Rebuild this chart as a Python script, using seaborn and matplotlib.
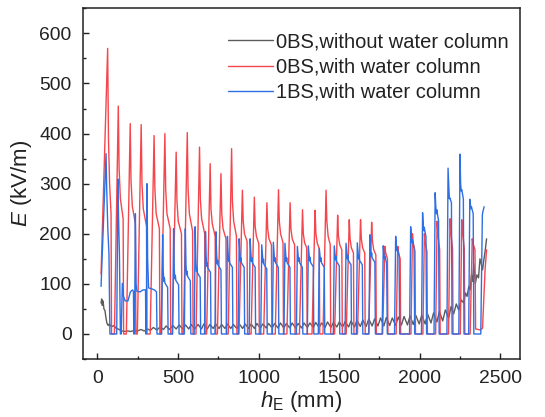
import matplotlib
matplotlib.use("Agg")
import matplotlib.pyplot as plt
from matplotlib.ticker import MultipleLocator
import seaborn as sns
import pandas as pd

# ---------------- data ----------------
# h_E (mm) and E (kV/m)
gray_x = [23, 27, 31, 35, 41, 47, 53, 59, 67, 74, 82, 93, 103, 114, 129, 145, 166, 187, 208, 228,
          249, 270, 291, 312, 328, 348, 369, 390, 411, 427, 448, 468, 489, 508, 529, 547, 567, 583,
          604, 625, 646, 661, 682, 698, 719, 734, 755, 771, 792, 807, 828, 844, 865, 881, 901, 917,
          938, 954, 975, 990, 1011, 1027, 1048, 1063, 1084, 1100, 1121, 1136, 1157, 1173, 1194, 1209,
          1230, 1246, 1267, 1282, 1303, 1319, 1340, 1355, 1376, 1392, 1413, 1428, 1449, 1465, 1486,
          1501, 1522, 1538, 1559, 1574, 1595, 1611, 1632, 1647, 1668, 1684, 1705, 1720, 1741, 1757,
          1778, 1793, 1814, 1830, 1851, 1867, 1887, 1903, 1924, 1940, 1960, 1976, 1997, 2013, 2034,
          2049, 2070, 2086, 2107, 2122, 2143, 2159, 2180, 2195, 2211, 2227, 2242, 2258, 2273, 2284,
          2294, 2305, 2313, 2321, 2328, 2336, 2345, 2355, 2365, 2374, 2382, 2390, 2399, 2406, 2415]
gray_y = [62, 70, 57, 66, 50, 47, 33, 22, 17, 20, 16, 15, 17, 12, 10, 7, 5, 6, 5, 7,
          6, 9, 6, 10, 7, 13, 8, 14, 9, 16, 9, 17, 10, 18, 10, 18, 10, 19,
          10, 19, 10, 20, 10, 19, 11, 20, 11, 19, 11, 20, 11, 19, 11, 20, 11, 20,
          11, 20, 11, 21, 12, 20, 12, 21, 12, 21, 12, 22, 12, 21, 12, 22,
          12, 21, 12, 22, 13, 22, 13, 23, 13, 22, 13, 24, 13, 23, 14,
          24, 14, 25, 14, 26, 14, 27, 15, 28, 15, 30, 16, 30, 16, 32,
          16, 33, 17, 32, 17, 34, 18, 35, 18, 36, 19, 37, 20, 38, 20,
          40, 22, 42, 24, 45, 26, 48, 32, 55, 40, 60, 48, 68, 62, 82,
          75, 95, 88, 118, 105, 140, 100, 118, 112, 150, 140, 128, 150, 165, 190]

red_x = [23, 64, 69, 76, 85, 88,
         106, 130, 135, 143, 160, 163,
         180, 204, 209, 217, 236, 239,
         248, 272, 277, 285, 305, 308,
         328, 352, 357, 365, 385, 388,
         395, 419, 424, 432, 452, 455,
         465, 489, 494, 502, 522, 525,
         534, 558, 563, 571, 591, 594,
         612, 634, 639, 647, 666, 669,
         678, 700, 705, 713, 731, 734,
         745, 767, 772, 780, 798, 801,
         812, 833, 838, 846, 863, 866,
         879, 900, 905, 913, 929, 932,
         954, 974, 979, 987, 1002, 1005,
         1032, 1052, 1057, 1065, 1080, 1083,
         1104, 1124, 1129, 1137, 1152, 1155,
         1176, 1196, 1201, 1209, 1224, 1227,
         1254, 1273, 1278, 1286, 1299, 1302,
         1332, 1351, 1356, 1364, 1377, 1380,
         1400, 1419, 1424, 1432, 1445, 1448,
         1472, 1491, 1496, 1504, 1517, 1520,
         1544, 1563, 1568, 1576, 1589, 1592,
         1614, 1633, 1638, 1646, 1659, 1662,
         1683, 1702, 1707, 1715, 1728, 1731,
         1770, 1784, 1789, 1800, 1803,
         1854, 1864, 1869, 1879, 1882,
         1946, 1955, 1960, 1971, 1974,
         2020, 2029, 2034, 2045, 2048,
         2099, 2108, 2113, 2124, 2127,
         2179, 2188, 2193, 2204, 2207,
         2252, 2261, 2266, 2277, 2280,
         2313, 2326, 2332, 2343, 2347, 2378, 2390, 2406, 2415]
red_y = [120, 570, 390, 300, 240, 0,
         0, 455, 330, 270, 230, 0,
         0, 420, 305, 255, 220, 0,
         0, 418, 300, 250, 215, 0,
         0, 396, 290, 240, 210, 0,
         0, 400, 290, 240, 210, 0,
         0, 363, 265, 225, 200, 0,
         0, 402, 290, 240, 205, 0,
         0, 373, 270, 230, 200, 0,
         0, 340, 250, 220, 195, 0,
         0, 320, 240, 210, 190, 0,
         0, 370, 265, 225, 195, 0,
         0, 287, 225, 200, 185, 0,
         0, 273, 215, 195, 180, 0,
         0, 262, 210, 190, 178, 0,
         0, 288, 225, 200, 182, 0,
         0, 262, 210, 190, 178, 0,
         0, 248, 200, 182, 172, 0,
         0, 247, 200, 182, 170, 0,
         0, 287, 225, 195, 178, 0,
         0, 237, 195, 178, 168, 0,
         0, 228, 190, 172, 162, 0,
         0, 228, 190, 172, 162, 0,
         0, 223, 185, 168, 158, 0,
         0, 175, 162, 150, 0,
         0, 175, 162, 150, 0,
         0, 200, 182, 165, 0,
         0, 200, 182, 165, 0,
         0, 225, 200, 168, 0,
         0, 230, 205, 170, 0,
         0, 228, 205, 170, 0,
         0, 190, 180, 168, 10, 8, 12, 130, 168]

blue_x = [23, 54, 58, 65, 72, 78, 120, 128, 131, 137, 143, 148, 155, 162, 173, 190, 205, 218, 224, 226,
          231, 236, 240, 246, 265, 283, 299, 301, 304, 308, 312, 318, 338, 354, 367, 370,
          399, 405, 409, 413, 416, 419, 436, 439,
          467, 473, 477, 481, 484, 487, 504, 507,
          540, 546, 550, 554, 557, 560, 577, 580,
          601, 607, 611, 615, 618, 621, 638, 641,
          665, 671, 675, 679, 682, 685, 702, 705,
          730, 736, 740, 744, 747, 750, 767, 770,
          801, 807, 811, 815, 818, 821, 838, 841,
          874, 880, 884, 888, 891, 894, 911, 914,
          942, 948, 952, 956, 959, 962, 979, 982,
          1014, 1020, 1024, 1028, 1031, 1034, 1051, 1054,
          1086, 1092, 1096, 1100, 1103, 1106, 1123, 1126,
          1158, 1164, 1168, 1172, 1175, 1178, 1195, 1198,
          1235, 1241, 1245, 1249, 1252, 1255, 1272, 1275,
          1303, 1309, 1313, 1317, 1320, 1323, 1340, 1343,
          1371, 1377, 1381, 1385, 1388, 1391, 1408, 1411,
          1464, 1470, 1474, 1478, 1481, 1484, 1501, 1504,
          1537, 1543, 1547, 1551, 1554, 1557, 1574, 1577,
          1607, 1613, 1617, 1621, 1624, 1627, 1644, 1647,
          1685, 1691, 1695, 1699, 1702, 1705, 1722, 1725,
          1767, 1774, 1778, 1782, 1784, 1795, 1799,
          1844, 1851, 1855, 1859, 1861, 1872, 1876,
          1937, 1944, 1948, 1952, 1954, 1965, 1969,
          2011, 2018, 2022, 2026, 2028, 2039, 2043,
          2089, 2096, 2100, 2104, 2106, 2117, 2121,
          2169, 2176, 2180, 2184, 2187, 2197, 2201,
          2243, 2250, 2254, 2258, 2261, 2271, 2275,
          2304, 2311, 2315, 2319, 2321, 2332, 2336,
          2379, 2389, 2392, 2400]
blue_y = [95, 360, 290, 210, 160, 0, 0, 309, 240, 160, 0, 0, 101, 75, 66, 66, 84, 88, 85, 0,
          0, 240, 100, 85, 84, 88, 88, 0, 0, 300, 150, 92, 90, 88, 84, 0,
          0, 198, 125, 105, 112, 102, 93, 0,
          0, 210, 130, 110, 117, 107, 98, 0,
          0, 210, 138, 118, 125, 115, 106, 0,
          0, 214, 145, 125, 132, 122, 113, 0,
          0, 204, 155, 135, 142, 132, 123, 0,
          0, 204, 160, 140, 147, 137, 128, 0,
          0, 195, 165, 145, 152, 142, 133, 0,
          0, 190, 165, 145, 152, 142, 133, 0,
          0, 190, 165, 145, 152, 142, 133, 0,
          0, 178, 160, 142, 149, 139, 130, 0,
          0, 183, 165, 145, 152, 142, 133, 0,
          0, 181, 163, 145, 152, 142, 133, 0,
          0, 175, 160, 145, 152, 142, 133, 0,
          0, 176, 162, 146, 153, 143, 134, 0,
          0, 171, 158, 145, 152, 142, 133, 0,
          0, 176, 162, 148, 155, 145, 136, 0,
          0, 181, 166, 150, 157, 147, 138, 0,
          0, 182, 166, 150, 157, 147, 138, 0,
          0, 198, 172, 155, 162, 152, 143, 0,
          0, 176, 158, 150, 155, 141, 0,
          0, 195, 176, 166, 172, 156, 0,
          0, 214, 193, 182, 188, 171, 0,
          0, 242, 218, 206, 213, 194, 0,
          0, 282, 254, 240, 248, 226, 0,
          0, 331, 300, 270, 272, 262, 0,
          0, 359, 300, 285, 288, 270, 0,
          0, 269, 258, 250, 254, 240, 0,
          0, 238, 244, 254]

labels = ["0BS,without water column", "0BS,with water column", "1BS,with water column"]
colors = ["#5c5c5c", "#f4464c", "#2f6fe4"]

# ---------------- plotting ----------------
sns.set_style("ticks")
plt.rcParams["font.family"] = ["Liberation Sans", "DejaVu Sans"]
plt.rcParams["mathtext.fontset"] = "custom"
plt.rcParams["mathtext.rm"] = "Liberation Sans"
plt.rcParams["mathtext.it"] = "Liberation Sans:italic"

fig = plt.figure(figsize=(5.45, 4.17), dpi=100)
ax = fig.add_axes([0.152, 0.139, 0.802, 0.841])

series = [(gray_x, gray_y), (red_x, red_y), (blue_x, blue_y)]
for (xs, ys), lab, col in zip(series, labels, colors):
    df = pd.DataFrame({"h": xs, "E": ys})
    sns.lineplot(data=df, x="h", y="E", sort=False, estimator=None, ax=ax,
                 color=col, linewidth=1.0, label=lab)

ax.set_xlim(-90, 2622)
ax.set_ylim(-50, 650)
ax.xaxis.set_major_locator(MultipleLocator(500))
ax.xaxis.set_minor_locator(MultipleLocator(250))
ax.yaxis.set_major_locator(MultipleLocator(100))
ax.yaxis.set_minor_locator(MultipleLocator(50))
ax.tick_params(which="both", direction="in", top=False, right=False,
               labelsize=13.9, colors="#222222", width=1.0)
ax.tick_params(which="major", length=4.5, pad=8)
ax.tick_params(which="minor", length=2.4)
for s in ax.spines.values():
    s.set_linewidth(1.1)
    s.set_color("#222222")

ax.set_xlabel(r"$h_{\mathrm{E}}$ (mm)", fontsize=16, labelpad=1, color="#222222")
ax.set_ylabel(r"$E$ (kV/m)", fontsize=16, labelpad=4, color="#222222")

leg = ax.legend(loc="upper left", bbox_to_anchor=(0.332, 0.931), frameon=False,
                fontsize=14.5, handlelength=2.24, handletextpad=0.15,
                labelspacing=0.3, borderpad=0, borderaxespad=0)
for t in leg.get_texts():
    t.set_color("#222222")

fig.savefig("out.png", dpi=100)
